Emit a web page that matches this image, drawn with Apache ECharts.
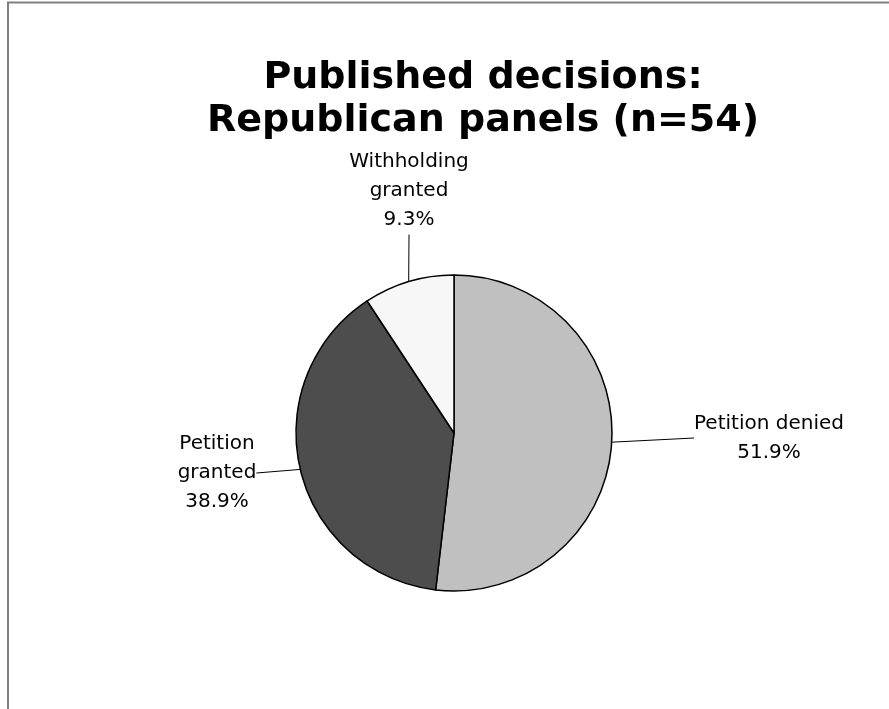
<!DOCTYPE html>
<html>
<head>
<meta charset="utf-8">
<title>Published decisions: Republican panels</title>
<script src="https://cdn.jsdelivr.net/npm/echarts@6/dist/echarts.min.js"></script>
<style>
  html, body { margin: 0; padding: 0; background: #ffffff; }
  #chart { width: 889px; height: 709px; }
</style>
</head>
<body>
<div id="chart"></div>
<script>
// Outcome categories (clockwise from 12 o'clock) and decision counts, n = 54
const categories = ['Petition denied', 'Petition\ngranted', 'Withholding\ngranted'];
const counts = [28, 21, 5];
const sliceColors = ['#c0c0c0', '#4d4d4d', '#f7f7f7'];
const titleLines = ['Published decisions:', 'Republican panels (n=54)'];

const total = counts.reduce((a, b) => a + b, 0);

// Where each label block sits (centre of the text block)
const labelSpots = [
  { x: 769, y: 438 },
  { x: 217, y: 473 },
  { x: 409, y: 191 }
];

const chart = echarts.init(document.getElementById('chart'), null, { renderer: 'canvas' });

chart.setOption({
  animation: false,
  backgroundColor: '#ffffff',
  title: {
    text: titleLines.join('\n'),
    left: 478,
    top: 52,
    textAlign: 'center',
    textStyle: {
      fontFamily: 'DejaVu Sans',
      fontWeight: 'bold',
      fontSize: 38,
      lineHeight: 43,
      color: '#000000'
    }
  },
  graphic: [
    {
      type: 'polyline',
      shape: { points: [[8, 709], [8, 2.5], [889, 2.5]] },
      style: { stroke: '#7f7f7f', lineWidth: 2, fill: null },
      silent: true
    }
  ],
  series: [
    {
      type: 'pie',
      center: [454, 433],
      radius: 158,
      startAngle: 90,
      clockwise: true,
      data: categories.map((name, i) => ({
        name: name,
        value: counts[i],
        itemStyle: { color: sliceColors[i] }
      })),
      itemStyle: { borderColor: '#000000', borderWidth: 1.5 },
      label: {
        show: true,
        position: 'outside',
        formatter: p => p.name + '\n' + (p.value / total * 100).toFixed(1) + '%',
        fontFamily: 'DejaVu Sans',
        fontSize: 20,
        lineHeight: 29,
        color: '#000000',
        align: 'center'
      },
      labelLine: {
        show: true,
        length: 20,
        length2: 0,
        lineStyle: { color: '#000000', width: 1 }
      },
      labelLayout: params => {
        const s = labelSpots[params.dataIndex];
        return { x: s.x, y: s.y, align: 'center', verticalAlign: 'middle' };
      },
      emphasis: { disabled: true }
    }
  ]
});
</script>
</body>
</html>
